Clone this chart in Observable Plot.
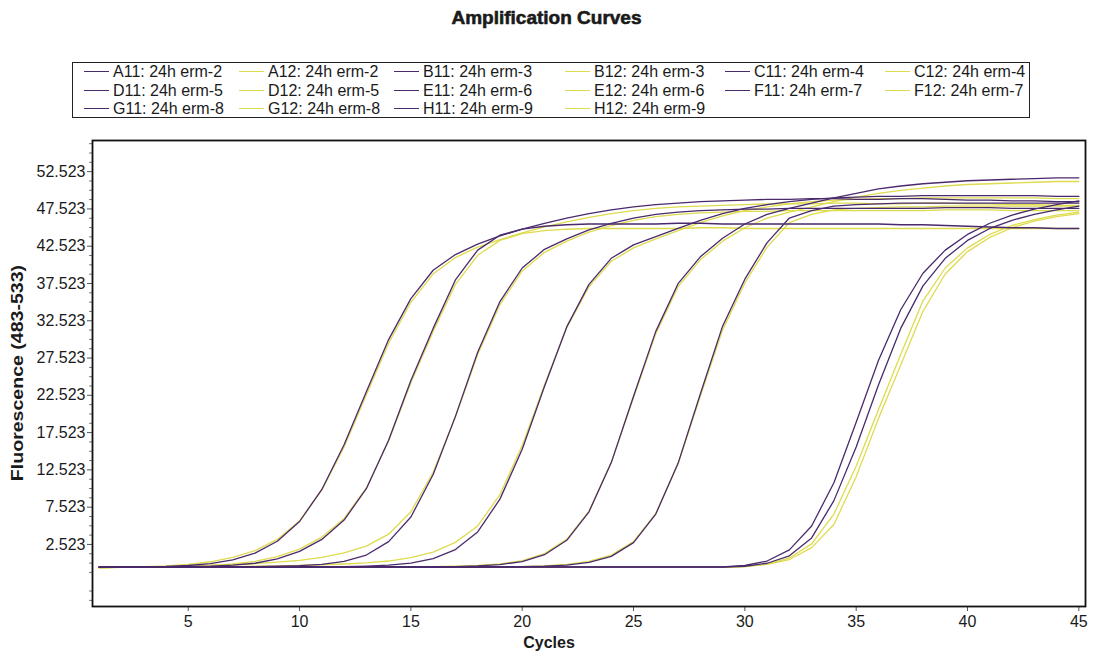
<!DOCTYPE html>
<html><head><meta charset="utf-8">
<script src="https://cdn.jsdelivr.net/npm/d3@7"></script>
<script src="https://cdn.jsdelivr.net/npm/@observablehq/plot@0.6"></script>
<style>
body{margin:0;background:#fff;width:1093px;height:656px;position:relative;overflow:hidden;font-family:"Liberation Sans",Arial,sans-serif;color:#1a1a1a}
#title{position:absolute;top:7px;left:0;width:1093px;text-align:center;font-weight:bold;font-size:19px;line-height:22px;-webkit-text-stroke:0.6px #1a1a1a}
#legend{position:absolute;left:72px;top:62px;width:958px;height:56px;border:1.5px solid #222;box-sizing:border-box}
.item{position:absolute;font-size:16px;line-height:18px;white-space:nowrap}
.sw{position:absolute;height:0;width:25px}
#chart{position:absolute;left:0;top:120px}
#ylab{position:absolute;left:18px;top:373px;transform:translate(-50%,-50%) scaleY(1.15) rotate(-90deg);font-weight:bold;font-size:17px;white-space:nowrap}
#xlab{position:absolute;left:549px;top:643px;transform:translate(-50%,-50%);font-weight:bold;font-size:16px}
</style></head>
<body>
<div id="title">Amplification Curves</div>
<div id="legend"></div>
<div id="chart"></div>
<div id="ylab">Fluorescence (483-533)</div>
<div id="xlab">Cycles</div>
<script>
const cycles = [1,2,3,4,5,6,7,8,9,10,11,12,13,14,15,16,17,18,19,20,21,22,23,24,25,26,27,28,29,30,31,32,33,34,35,36,37,38,39,40,41,42,43,44,45];
const xTicks = [5,10,15,20,25,30,35,40,45];
const yTicks = [2.523,7.523,12.523,17.523,22.523,27.523,32.523,37.523,42.523,47.523,52.523];

const wells = ["A11","A12","B11","B12","C11","C12","D11","D12","E11","E12","F11","F12","G11","G12","H11","H12"];
const samples = ["24h erm-2","24h erm-2","24h erm-3","24h erm-3","24h erm-4","24h erm-4","24h erm-5","24h erm-5","24h erm-6","24h erm-6","24h erm-7","24h erm-7","24h erm-8","24h erm-8","24h erm-9","24h erm-9"];

const A11 = [-0.55,-0.45,-0.45,-0.42,-0.3,-0.05,0.45,1.35,2.95,5.6,9.9,15.9,23.0,30.0,35.5,39.3,41.4,42.8,43.9,44.8,45.6,46.3,46.9,47.4,47.8,48.1,48.3,48.5,48.6,48.7,48.8,48.8,48.9,48.9,48.8,48.8,48.9,48.9,48.8,48.7,48.7,48.6,48.6,48.5,48.5];
const A12 = [-0.6,-0.5,-0.45,-0.35,-0.15,0.2,0.8,1.7,3.2,5.7,9.8,15.6,22.6,29.5,35.0,38.8,41.0,42.4,43.4,44.3,45.1,45.8,46.4,46.9,47.3,47.6,47.8,47.9,48.0,48.1,48.2,48.2,48.2,48.3,48.3,48.2,48.2,48.3,48.3,48.2,48.2,48.1,48.1,48.0,48.0];
const B11 = [-0.55,-0.5,-0.5,-0.5,-0.45,-0.4,-0.25,0.0,0.6,1.6,3.2,5.8,10.0,16.5,24.5,31.5,38.0,42.0,44.0,44.8,45.2,45.4,45.5,45.5,45.5,45.5,45.6,45.6,45.5,45.5,45.5,45.5,45.5,45.5,45.5,45.5,45.4,45.4,45.3,45.2,45.1,45.0,45.0,44.9,44.9];
const B12 = [-0.6,-0.55,-0.5,-0.45,-0.4,-0.3,-0.1,0.25,0.9,1.9,3.5,6.0,10.1,16.4,24.2,31.1,37.4,41.3,43.3,44.2,44.6,44.8,44.9,44.9,44.9,44.9,44.9,45.0,45.0,44.9,44.9,44.9,44.9,44.9,44.9,44.9,44.9,44.9,44.9,44.9,44.9,44.9,44.9,44.9,44.9];
const C11 = [-0.55,-0.5,-0.5,-0.5,-0.5,-0.5,-0.48,-0.45,-0.4,-0.33,-0.15,0.25,1.1,2.9,6.2,11.9,19.7,28.3,35.1,39.6,42.1,43.5,44.7,45.6,46.3,46.8,47.1,47.3,47.4,47.5,47.5,47.6,47.6,47.6,47.6,47.6,47.6,47.6,47.7,47.7,47.7,47.6,47.6,47.6,47.6];
const C12 = [-0.6,-0.55,-0.5,-0.45,-0.4,-0.3,-0.2,-0.05,0.15,0.4,0.8,1.4,2.3,3.9,6.9,12.2,19.6,28.0,34.7,39.2,41.7,43.2,44.4,45.3,46.0,46.5,46.8,47.0,47.1,47.2,47.2,47.3,47.3,47.3,47.3,47.3,47.3,47.3,47.4,47.4,47.4,47.3,47.3,47.3,47.3];
const D11 = [-0.5,-0.5,-0.5,-0.5,-0.5,-0.5,-0.5,-0.5,-0.5,-0.5,-0.48,-0.45,-0.38,-0.25,0.03,0.63,1.84,4.2,8.6,15.3,23.7,31.7,37.4,40.9,42.7,43.8,44.9,46.0,46.9,47.6,48.1,48.5,48.8,49.0,49.1,49.2,49.2,49.3,49.3,49.3,49.3,49.3,49.3,49.2,49.2];
const D12 = [-0.55,-0.55,-0.5,-0.5,-0.5,-0.5,-0.45,-0.4,-0.35,-0.3,-0.2,-0.1,0.05,0.3,0.75,1.5,2.8,5.0,9.2,15.8,23.9,31.6,37.1,40.5,42.3,43.5,44.6,45.7,46.6,47.3,47.8,48.2,48.5,48.7,48.8,48.9,48.9,49.0,49.0,49.0,49.0,49.0,49.0,48.9,48.9];
const E11 = [-0.5,-0.5,-0.5,-0.5,-0.5,-0.5,-0.5,-0.5,-0.5,-0.5,-0.5,-0.5,-0.5,-0.5,-0.5,-0.5,-0.44,-0.36,-0.18,0.23,1.15,3.08,6.9,13.5,22.4,31.1,37.5,41.1,43.6,45.5,46.8,47.6,48.3,49.0,49.6,50.2,50.6,50.9,51.1,51.3,51.4,51.5,51.6,51.7,51.7];
const E12 = [-0.55,-0.55,-0.55,-0.55,-0.55,-0.55,-0.55,-0.55,-0.55,-0.55,-0.55,-0.55,-0.55,-0.55,-0.5,-0.45,-0.4,-0.3,-0.1,0.35,1.3,3.2,7.0,13.5,22.2,30.8,37.1,40.7,43.2,45.0,46.3,47.1,47.8,48.5,49.1,49.6,50.0,50.3,50.6,50.8,50.9,51.0,51.1,51.2,51.2];
const F11 = [-0.5,-0.5,-0.5,-0.5,-0.5,-0.5,-0.5,-0.5,-0.5,-0.5,-0.5,-0.5,-0.5,-0.5,-0.5,-0.5,-0.5,-0.5,-0.5,-0.45,-0.39,-0.24,0.11,0.93,2.76,6.6,13.4,22.7,31.8,38.1,43.0,46.3,47.3,47.9,48.1,48.2,48.3,48.3,48.3,48.3,48.3,48.3,48.3,48.3,48.3];
const F12 = [-0.55,-0.55,-0.55,-0.55,-0.55,-0.55,-0.55,-0.55,-0.55,-0.55,-0.55,-0.55,-0.55,-0.55,-0.55,-0.55,-0.55,-0.55,-0.5,-0.45,-0.35,-0.15,0.25,1.1,2.9,6.7,13.3,22.4,31.3,37.6,42.4,45.7,46.8,47.4,47.6,47.7,47.8,47.8,47.9,47.9,47.9,47.9,47.9,47.9,47.9];
const G11 = [-0.5,-0.5,-0.5,-0.5,-0.5,-0.5,-0.5,-0.5,-0.5,-0.5,-0.5,-0.5,-0.5,-0.5,-0.5,-0.5,-0.5,-0.5,-0.5,-0.5,-0.5,-0.5,-0.5,-0.5,-0.5,-0.5,-0.5,-0.5,-0.5,-0.3,0.3,1.8,5.0,10.8,18.9,27.2,34.0,38.9,42.0,44.1,45.6,46.7,47.5,48.1,48.6];
const G12 = [-0.55,-0.55,-0.55,-0.55,-0.55,-0.55,-0.55,-0.55,-0.55,-0.55,-0.55,-0.55,-0.55,-0.55,-0.55,-0.55,-0.55,-0.55,-0.55,-0.55,-0.55,-0.55,-0.55,-0.55,-0.55,-0.55,-0.55,-0.55,-0.55,-0.45,-0.1,0.7,2.6,6.6,13.0,20.6,28.0,35.2,39.6,42.3,44.1,45.3,46.1,46.7,47.1];
const H11 = [-0.5,-0.5,-0.5,-0.5,-0.5,-0.5,-0.5,-0.5,-0.5,-0.5,-0.5,-0.5,-0.5,-0.5,-0.5,-0.5,-0.5,-0.5,-0.5,-0.5,-0.5,-0.5,-0.5,-0.5,-0.5,-0.5,-0.5,-0.5,-0.5,-0.4,0.0,1.0,3.4,8.4,15.6,23.9,31.5,37.2,40.9,43.3,44.9,46.0,46.8,47.4,47.9];
const H12 = [-0.55,-0.55,-0.55,-0.55,-0.55,-0.55,-0.55,-0.55,-0.55,-0.55,-0.55,-0.55,-0.55,-0.55,-0.55,-0.55,-0.55,-0.55,-0.55,-0.55,-0.55,-0.55,-0.55,-0.55,-0.55,-0.55,-0.55,-0.55,-0.55,-0.45,-0.15,0.5,2.1,5.2,11.6,19.4,26.6,33.8,38.8,41.8,43.7,45.0,45.9,46.5,46.9];

const seriesValues = {A11,A12,B11,B12,C11,C12,D11,D12,E11,E12,F11,F12,G11,G12,H11,H12};
const PURPLE = "#4a2a6c", YELLOW = "#dedb4e";
const colorOf = w => w.endsWith("11") ? PURPLE : YELLOW;

const order = wells.filter(w => w.endsWith("12")).concat(wells.filter(w => w.endsWith("11")));
const rows = [];
for (const w of order) seriesValues[w].forEach((v, i) => rows.push({well: w, cycle: cycles[i], value: v, color: colorOf(w)}));

const colX = [112, 267, 422, 593, 753, 913];
const rowY = [71, 89.5, 108];
const leg = document.getElementById("legend");
wells.forEach((w, i) => {
  const c = i % 6, r = Math.floor(i / 6);
  const left = colX[c] - 72, top = rowY[r] - 62;
  const sw = document.createElement("div");
  sw.className = "sw";
  sw.style.left = (left - 29) + "px";
  sw.style.top = (top - 1) + "px";
  sw.style.borderTop = "1.3px solid " + colorOf(w);
  leg.appendChild(sw);
  const t = document.createElement("div");
  t.className = "item";
  t.style.left = left + "px";
  t.style.top = (top - 9) + "px";
  t.textContent = w + ": " + samples[i];
  leg.appendChild(t);
});

const yMinor = [];
for (let k = -6; k <= 43; k++) { if (k % 4 !== 0) yMinor.push(2.523 + k * 1.25); }

const chart = Plot.plot({
  width: 1093, height: 536,
  marginLeft: 92, marginRight: 8, marginTop: 20, marginBottom: 50,
  style: {fontFamily: "Liberation Sans, Arial, sans-serif", fontSize: "16px", color: "#1a1a1a", background: "transparent"},
  x: {domain: [0.7, 45.3], label: null},
  y: {domain: [-5.8, 56.7], label: null},
  color: {type: "identity"},
  marks: [
    Plot.axisX({ticks: xTicks, tickSize: 5, tickPadding: 4, label: null, stroke: "#555"}),
    Plot.axisY({ticks: yMinor.filter(v => v > -5.8 && v < 56.7), tickSize: 3, tickFormat: () => "", label: null, stroke: "#777"}),
    Plot.axisY({ticks: yTicks, tickSize: 5, tickPadding: 2, tickFormat: d => d.toFixed(3), label: null, stroke: "#555"}),
    Plot.line(rows, {x: "cycle", y: "value", z: "well", stroke: "color", strokeWidth: 1.3}),
    Plot.frame({stroke: "#111", strokeWidth: 1.8})
  ]
});
document.getElementById("chart").appendChild(chart);
</script>
</body></html>
